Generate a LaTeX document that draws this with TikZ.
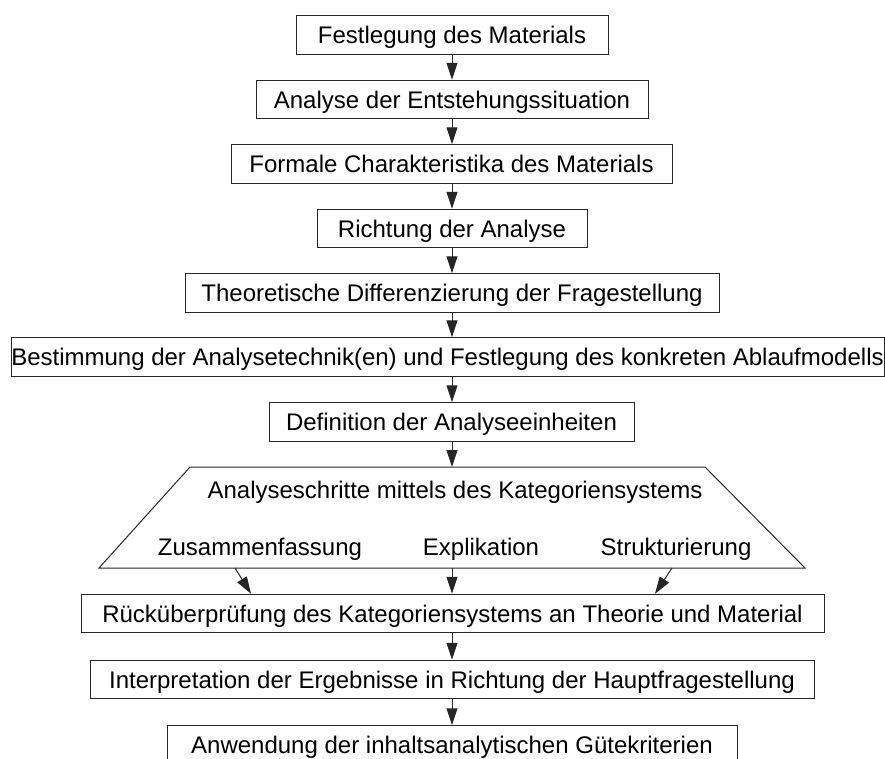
\documentclass[tikz,border=0pt]{standalone}
\usepackage{fontspec}
\setmainfont{Liberation Sans}
\usetikzlibrary{arrows.meta}

\tikzset{
  every node/.style={font=\fontsize{24}{28}\selectfont},
  stepbox/.style={draw=black!85, line width=1pt, inner sep=0pt,
    minimum height=38.5pt, text height=17.2pt, text depth=0pt},
  lbl/.style={inner sep=0pt, text height=17.2pt, text depth=0pt},
  arr/.style={draw=black!85, line width=1pt, -{Triangle[length=17pt,width=11pt]}},
}

\begin{document}
\begin{tikzpicture}[x=1pt,y=-1pt]
\useasboundingbox (0,0) rectangle (885,758);
\clip (0,0) rectangle (885,758);

% process steps
\node[stepbox, minimum width=312pt] (b1) at (452,35)    {Festlegung des Materials};
\node[stepbox, minimum width=392pt] (b2) at (452,99.5)  {Analyse der Entstehungssituation};
\node[stepbox, minimum width=441pt] (b3) at (451.5,164) {Formale Charakteristika des Materials};
\node[stepbox, minimum width=270pt] (b4) at (452,228.5) {Richtung der Analyse};
\node[stepbox, minimum width=534pt] (b5) at (452,293)   {Theoretische Differenzierung der Fragestellung};
\node[stepbox, minimum width=873pt] (b6) at (447.5,357) {Bestimmung der Analysetechnik(en) und Festlegung des konkreten Ablaufmodells};
\node[stepbox, minimum width=365pt] (b7) at (451.5,422) {Definition der Analyseeinheiten};

% analysis block (trapezoid)
\coordinate (tl) at (190,467);
\coordinate (tr) at (705,467);
\coordinate (br) at (805,568);
\coordinate (bl) at (99,568);
\draw[draw=black!85, line width=1pt] (bl) -- (tl) -- (tr) -- (br) -- cycle;
\coordinate (tin) at (452,467);
\node[lbl] (ttl) at (455,490) {Analyseschritte mittels des Kategoriensystems};
\node[lbl] (zus) at (260,547) {Zusammenfassung};
\node[lbl] (exp) at (481,547) {Explikation};
\node[lbl] (str) at (676,547) {Strukturierung};
\coordinate (zsrc) at (235,568);
\coordinate (esrc) at (452,568);
\coordinate (ssrc) at (672,568);
\coordinate (ztip) at (251,594);
\coordinate (stip) at (655,594);

\node[stepbox, minimum width=743pt] (b8)  at (452.5,613.5) {Rücküberprüfung des Kategoriensystems an Theorie und Material};
\node[stepbox, minimum width=724pt] (b9)  at (452,679.5)   {Interpretation der Ergebnisse in Richtung der Hauptfragestellung};
\node[stepbox, minimum width=570pt] (b10) at (452,745)     {Anwendung der inhaltsanalytischen Gütekriterien};

% connectors
\draw[arr] (b1.south -| tin) -- (b2.north -| tin);
\draw[arr] (b2.south -| tin) -- (b3.north -| tin);
\draw[arr] (b3.south -| tin) -- (b4.north -| tin);
\draw[arr] (b4.south -| tin) -- (b5.north -| tin);
\draw[arr] (b5.south -| tin) -- (b6.north -| tin);
\draw[arr] (b6.south -| tin) -- (b7.north -| tin);
\draw[arr] (b7.south -| tin) -- (tin);
\draw[arr] (zsrc) -- (ztip |- b8.north);
\draw[arr] (esrc) -- (b8.north -| esrc);
\draw[arr] (ssrc) -- (stip |- b8.north);
\draw[arr] (b8.south -| tin) -- (b9.north -| tin);
\draw[arr] (b9.south -| tin) -- (b10.north -| tin);
\end{tikzpicture}
\end{document}
